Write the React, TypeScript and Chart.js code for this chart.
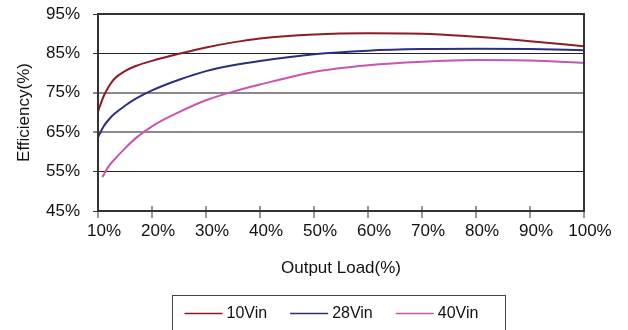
import React, { useEffect, useRef } from 'react';
import { Chart, registerables } from 'chart.js';

Chart.register(...registerables);

// Output load (%) sample positions
const loads = [10, 11, 12, 13, 15, 17, 20, 25, 30, 35, 40, 50, 60, 70, 80, 90, 100];
const eff10Vin = [70.2, 74.0, 76.6, 78.5, 80.5, 81.8, 83.1, 84.9, 86.5, 87.8, 88.8, 89.8, 90.1, 90.0, 89.2, 88.1, 86.8];
const eff28Vin = [63.7, 66.4, 68.2, 69.6, 71.7, 73.5, 75.6, 78.3, 80.5, 82.0, 83.1, 84.8, 85.7, 86.1, 86.2, 86.1, 85.8];
const loads40 = [10.8, 12, 13, 15, 17, 20, 25, 30, 35, 40, 50, 60, 70, 80, 90, 100];
const eff40Vin = [53.6, 56.4, 58.0, 60.9, 63.5, 66.5, 70.1, 73.1, 75.3, 77.1, 80.3, 82.0, 82.9, 83.3, 83.2, 82.6];

const seriesLabels = ['10Vin', '28Vin', '40Vin'];
const seriesColors = ['#8e1c22', '#2b2f7f', '#c856b0'];
const xTitle = 'Output Load(%)';
const yTitle = 'Efficiency(%)';
const xMin = 10, xMax = 100, xStep = 10;
const yMin = 45, yMax = 95, yStep = 10;
const darkGridValues = [85, 55];
const grayGridValues = [75, 65];

const FONT = '"Liberation Sans", Arial, Helvetica, sans-serif';

const frame = {
  id: 'frame',
  afterDatasetsDraw(chart: any) {
    const { ctx, chartArea } = chart;
    const xs = chart.scales.x;
    ctx.save();
    ctx.strokeStyle = '#777';
    ctx.lineWidth = 1.5;
    xs.ticks.forEach((t: any) => {
      const px = Math.round(xs.getPixelForValue(t.value));
      ctx.beginPath();
      ctx.moveTo(px, chartArea.bottom - 5);
      ctx.lineTo(px, chartArea.bottom + 7);
      ctx.stroke();
    });
    ctx.strokeStyle = '#333';
    ctx.lineWidth = 2;
    ctx.strokeRect(chartArea.left, chartArea.top, chartArea.right - chartArea.left, chartArea.bottom - chartArea.top);
    ctx.restore();
  },
};

const boxedLegend = {
  id: 'boxedLegend',
  afterDraw(chart: any) {
    const { ctx } = chart;
    ctx.save();
    ctx.font = `16px ${FONT}`;
    const left = 172.5, top = 295.5, right = 505.5;
    ctx.strokeStyle = '#444';
    ctx.lineWidth = 1;
    ctx.strokeRect(left, top, right - left, 60);
    const cy = 313.5;
    let x = left + 12;
    chart.data.datasets.forEach((ds: any) => {
      ctx.strokeStyle = ds.borderColor;
      ctx.lineWidth = 1.5;
      ctx.beginPath();
      ctx.moveTo(x, cy);
      ctx.lineTo(x + 38, cy);
      ctx.stroke();
      ctx.fillStyle = '#111';
      ctx.textBaseline = 'middle';
      ctx.textAlign = 'left';
      ctx.fillText(ds.label, x + 42, cy);
      x += 42 + ctx.measureText(ds.label).width + 23;
    });
    ctx.restore();
  },
};

export default function App() {
  const ref = useRef<HTMLCanvasElement | null>(null);

  useEffect(() => {
    if (!ref.current) return;
    const mk = (xsArr: number[], ysArr: number[]) => xsArr.map((x, i) => ({ x, y: ysArr[i] }));
    const seriesData = [mk(loads, eff10Vin), mk(loads, eff28Vin), mk(loads40, eff40Vin)];
    const chart = new Chart(ref.current, {
      type: 'line',
      data: {
        datasets: seriesLabels.map((label, i) => ({
          label,
          data: seriesData[i],
          borderColor: seriesColors[i],
          backgroundColor: seriesColors[i],
          borderWidth: 2,
          pointRadius: 0,
          cubicInterpolationMode: 'monotone' as const,
          fill: false,
        })),
      },
      options: {
        animation: false,
        responsive: false,
        devicePixelRatio: 1,
        layout: { padding: { top: 14, right: 44, bottom: 42, left: 0 } },
        plugins: { legend: { display: false }, tooltip: { enabled: false } },
        scales: {
          x: {
            type: 'linear',
            min: xMin,
            max: xMax,
            afterFit: (s: any) => { s.height = 77; s.paddingLeft = 0; s.paddingRight = 0; },
            border: { display: false },
            grid: { display: true, drawOnChartArea: false, drawTicks: false },
            ticks: {
              stepSize: xStep,
              padding: 10,
              labelOffset: 6,
              color: '#111',
              font: { family: FONT, size: 17 },
              callback: (v: any) => `${v}%`,
              maxRotation: 0,
            },
            title: {
              display: true,
              text: xTitle,
              color: '#111',
              font: { family: FONT, size: 17 },
              padding: { top: 0, bottom: 9 },
            },
          },
          y: {
            type: 'linear',
            min: yMin,
            max: yMax,
            afterFit: (s: any) => { s.width = 98; s.paddingTop = 0; s.paddingBottom = 0; },
            border: { display: false },
            grid: {
              drawTicks: true,
              tickLength: 5,
              color: (c: any) => {
                const v = c.tick?.value;
                if (darkGridValues.includes(v)) return '#222';
                if (grayGridValues.includes(v)) return '#8a8a8a';
                return 'rgba(0,0,0,0)';
              },
              tickColor: (c: any) => {
                const v = c.tick?.value;
                if (grayGridValues.includes(v)) return '#8a8a8a';
                return '#333';
              },
              lineWidth: (c: any) => (grayGridValues.includes(c.tick?.value) ? 2 : 1),
            },
            ticks: {
              stepSize: yStep,
              padding: 13,
              color: '#111',
              font: { family: FONT, size: 17 },
              callback: (v: any) => `${v}%`,
            },
            title: {
              display: true,
              text: yTitle,
              color: '#111',
              font: { family: FONT, size: 17 },
              padding: { top: 14, bottom: 0 },
            },
          },
        },
      },
      plugins: [frame, boxedLegend],
    });
    return () => chart.destroy();
  }, []);

  return (
    <div style={{ position: 'fixed', left: 0, top: 0, width: 628, height: 330, background: '#fff' }}>
      <canvas ref={ref} width={628} height={330} style={{ width: 628, height: 330, display: 'block' }} />
    </div>
  );
}
